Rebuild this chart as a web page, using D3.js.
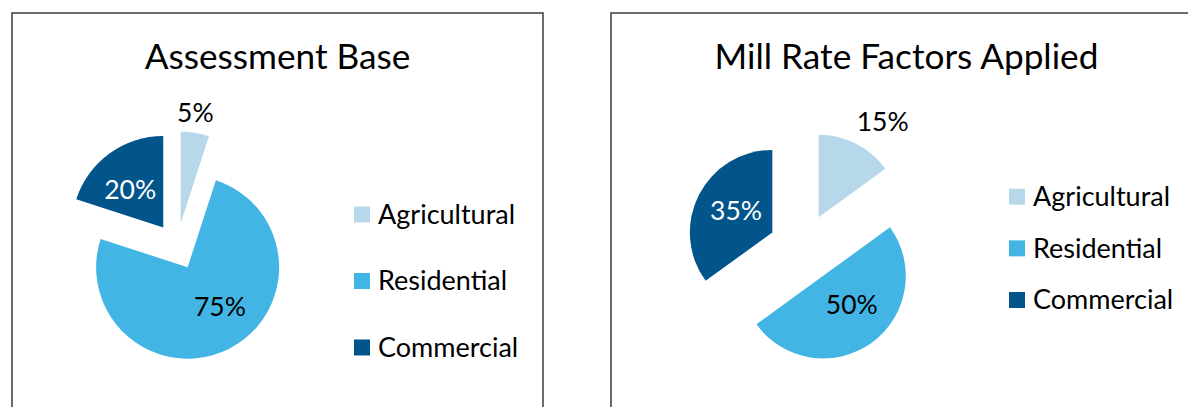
<!DOCTYPE html>
<meta charset="utf-8">
<style>
body { margin: 0; background: #fff; }
text { font-family: Lato, "Open Sans", sans-serif; }
.panel-frame { fill: none; stroke: #3c3c3c; stroke-width: 1.5; }
.title { font-size: 35.2px; fill: #000; }
.legend text { font-size: 27px; fill: #000; }
.label { font-size: 26.5px; }
</style>
<body>
<script src="https://d3js.org/d3.v7.min.js"></script>
<script>
// slice order is clockwise from 12 o'clock, same as the original
var categories = ["Agricultural", "Residential", "Commercial"];
var assessmentShares = [5, 75, 20];
var millRateShares = [15, 50, 35];
var colors = ["#b7d8ea", "#42b5e4", "#02558b"];

var width = 1188,
    height = 407;

var svg = d3.select("body").append("svg")
    .attr("width", width)
    .attr("height", height);

var color = d3.scaleOrdinal()
    .domain(categories)
    .range(colors);

// labelAt: [radius as fraction of r, angle tweak in degrees] per slice,
// measured from the slice's own (exploded) tip
var charts = [
  {
    title: "Assessment Base",
    values: assessmentShares,
    frame: {x: 12, y: 13, w: 531},
    cx: 165, cy: 233.4, r: 91.5, explode: 23.4,
    labelAt: [[1.22, -1.4], [0.56, -12], [0.55, -5]],
    legend: {x: 342, top: 201.5, bottom: 334.5}
  },
  {
    title: "Mill Rate Factors Applied",
    values: millRateShares,
    frame: {x: 611, y: 13, w: 591},
    cx: 192, cy: 235, r: 82.5, explode: 34.4,
    labelAt: [[1.4, 6.7], [0.49, -9], [0.51, 3.5]],
    legend: {x: 398, top: 183.7, bottom: 287}
  }
];

var pie = d3.pie().sort(null).value(function(d) { return d; });

charts.forEach(function(c) {
  var g = svg.append("g")
      .attr("transform", "translate(" + c.frame.x + "," + c.frame.y + ")");

  // frame runs off the bottom of the picture
  g.append("rect")
      .attr("class", "panel-frame")
      .attr("x", 0)
      .attr("y", 0)
      .attr("width", c.frame.w)
      .attr("height", height);

  g.append("text")
      .attr("class", "title")
      .attr("x", c.frame.w / 2)
      .attr("y", 56)
      .attr("text-anchor", "middle")
      .text(c.title);

  var arcs = pie(c.values);
  arcs.forEach(function(d, i) { d.key = categories[i]; d.idx = i; });

  var arc = d3.arc().innerRadius(0).outerRadius(c.r);

  function mid(d) { return (d.startAngle + d.endAngle) / 2; }

  var slices = g.append("g")
      .attr("transform", "translate(" + c.cx + "," + c.cy + ")")
    .selectAll("g")
    .data(arcs)
    .enter().append("g")
      .attr("transform", function(d) {
        return "translate(" + d3.pointRadial(mid(d), c.explode) + ")";
      });

  slices.append("path")
      .attr("d", arc)
      .attr("fill", function(d) { return color(d.key); });

  slices.append("text")
      .attr("class", "label")
      .attr("transform", function(d) {
        var at = c.labelAt[d.idx];
        var p = d3.pointRadial(mid(d) + at[1] * Math.PI / 180, c.r * at[0]);
        return "translate(" + p + ")";
      })
      .attr("dy", "0.35em")
      .attr("text-anchor", "middle")
      .attr("fill", function(d) { return d.key === "Commercial" ? "#fff" : "#000"; })
      .text(function(d) { return d.value + "%"; });

  var y = d3.scalePoint()
      .domain(categories)
      .range([c.legend.top, c.legend.bottom]);

  var legend = g.append("g")
      .attr("class", "legend")
    .selectAll("g")
    .data(categories)
    .enter().append("g")
      .attr("transform", function(d) { return "translate(" + c.legend.x + "," + y(d) + ")"; });

  legend.append("rect")
      .attr("x", 0)
      .attr("y", -8)
      .attr("width", 16)
      .attr("height", 16)
      .attr("fill", color);

  legend.append("text")
      .attr("x", 24)
      .attr("dy", "0.35em")
      .text(function(d) { return d; });
});
</script>
